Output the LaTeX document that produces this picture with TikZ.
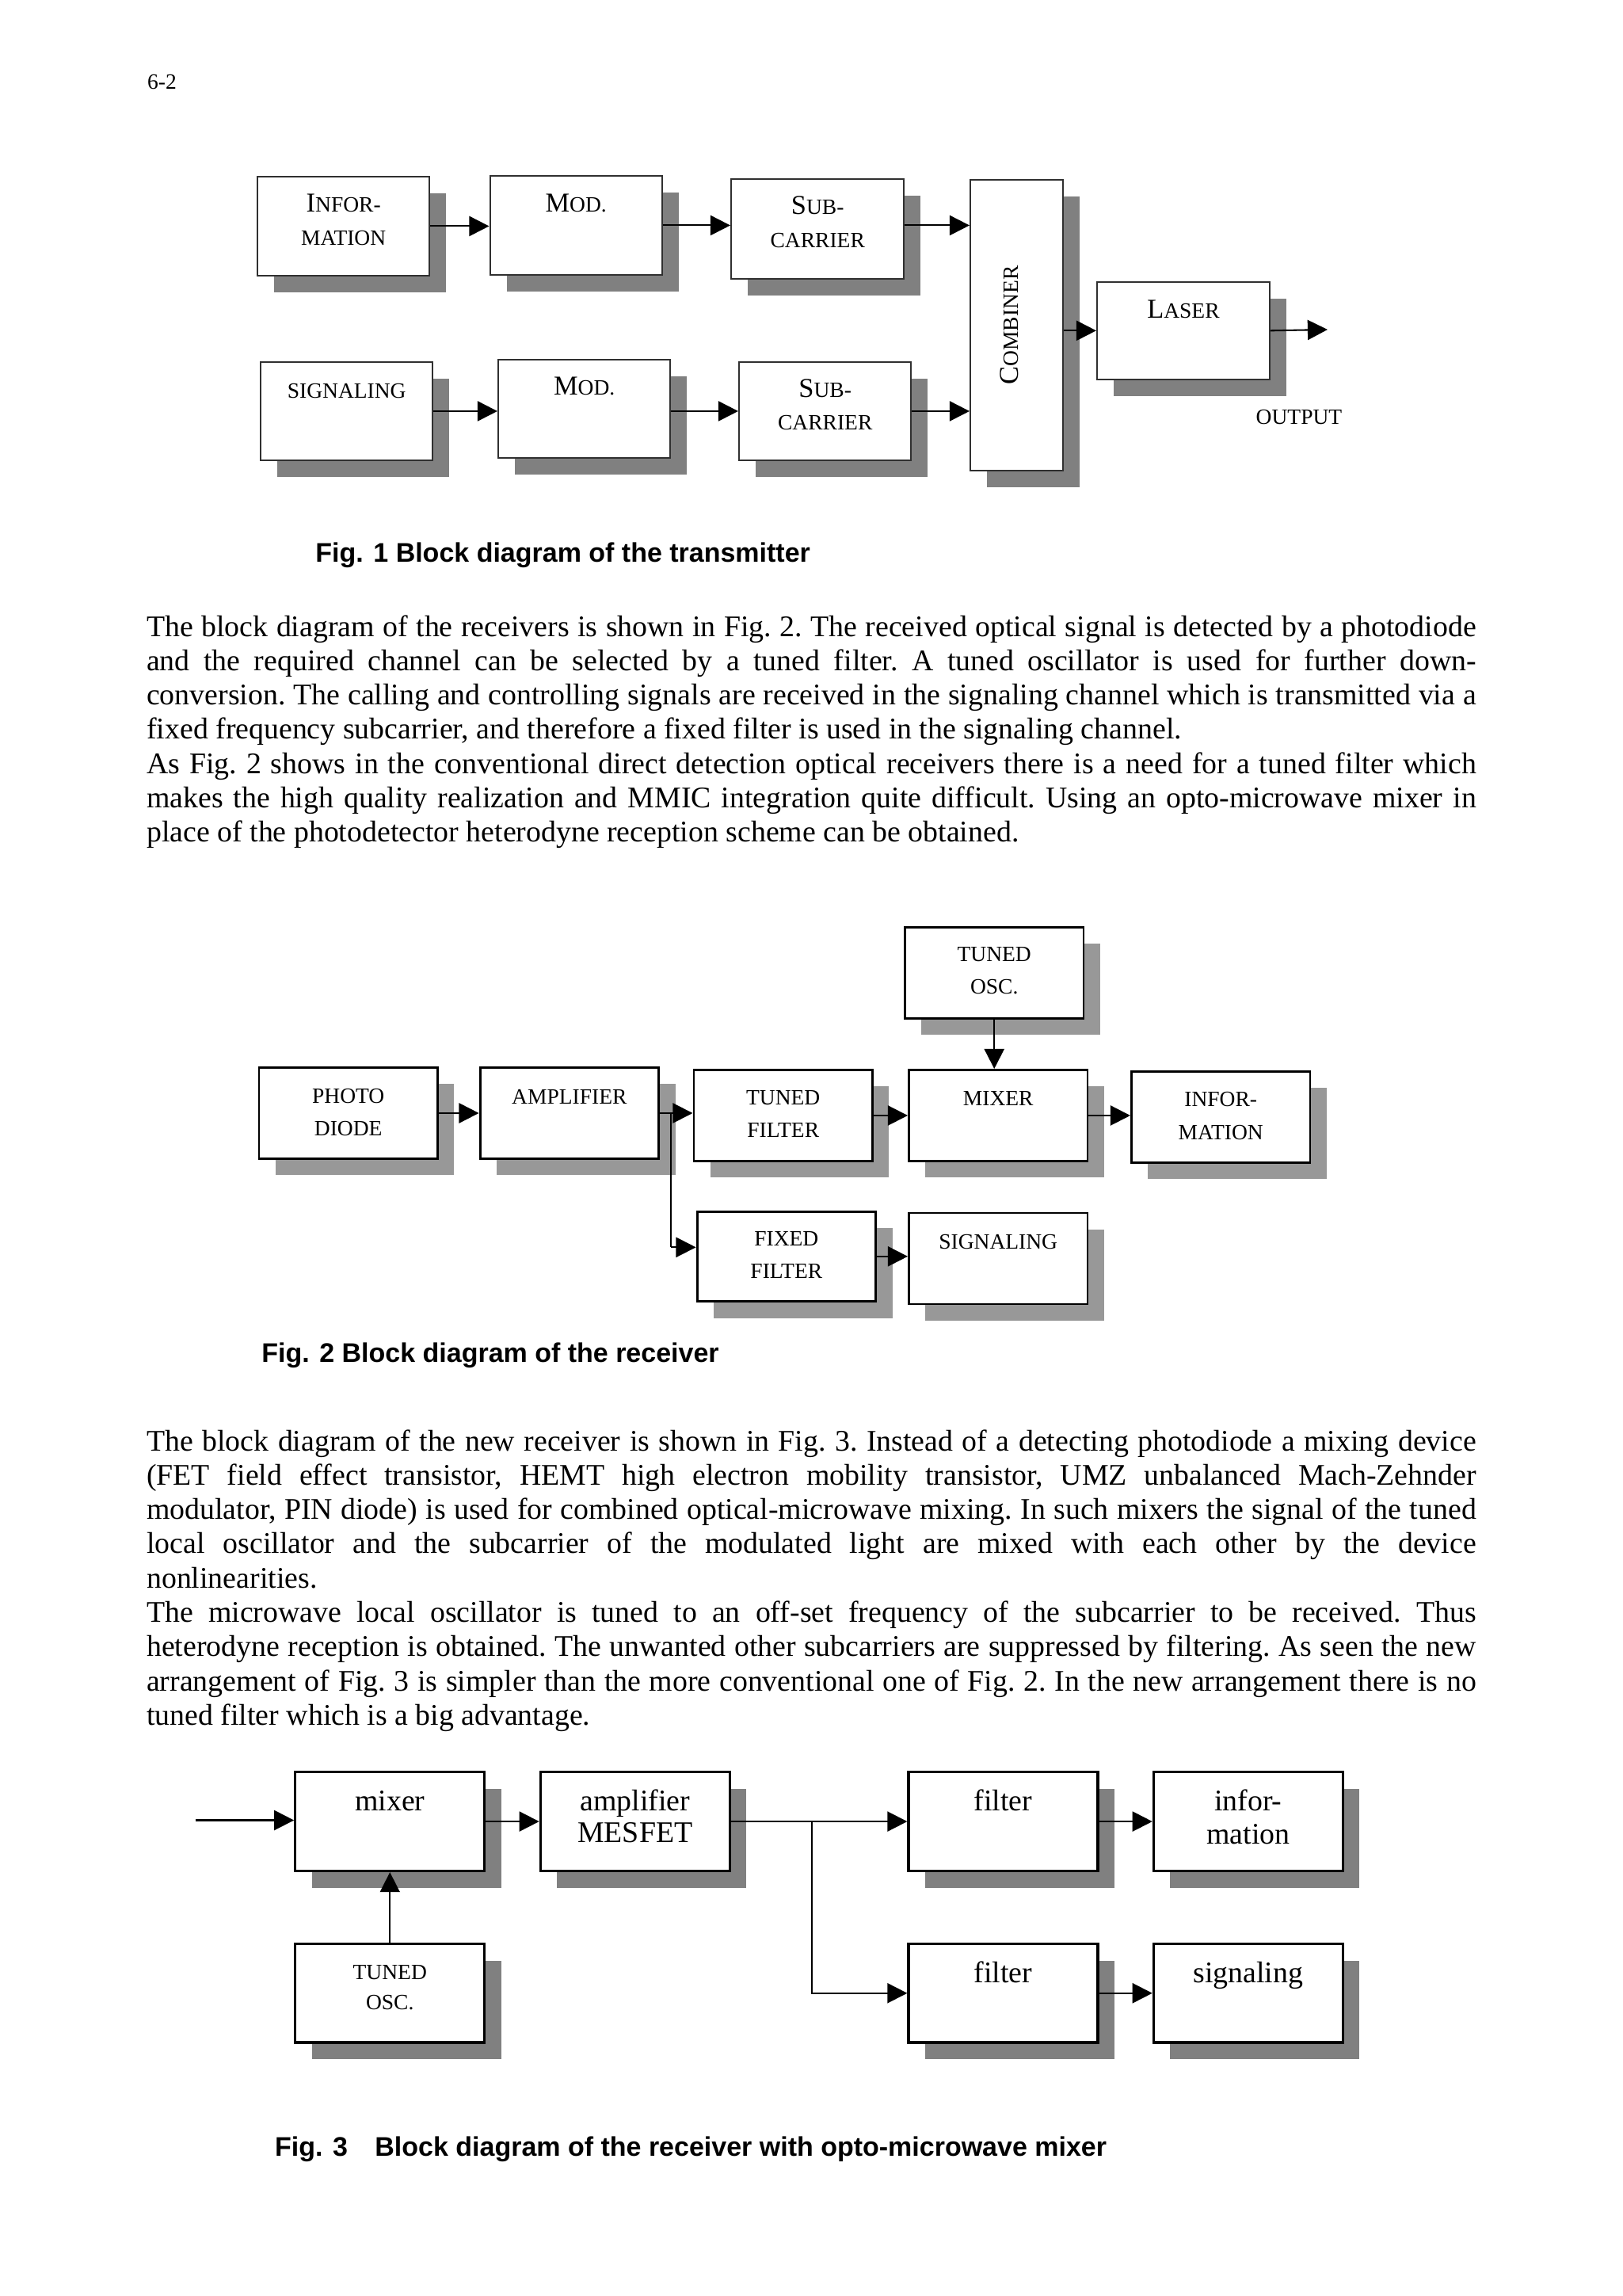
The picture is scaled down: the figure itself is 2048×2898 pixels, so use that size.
\documentclass[tikz,border=0pt]{standalone}
\usepackage{fontspec}
\setmainfont{Liberation Serif}
\newfontfamily\arialf{Liberation Sans}
\usetikzlibrary{arrows.meta,calc,shadows}
\definecolor{shA}{HTML}{808080}
\definecolor{shB}{HTML}{989898}
\definecolor{bordA}{HTML}{303030}
\newcommand\px{0.29066pt}
\newcommand\sm[1]{{\fontsize{8pt}{9pt}\selectfont #1}}
\begin{document}
\begin{tikzpicture}[x=0.29066pt,y=-0.29066pt,
  ar/.style={line width=0.6pt,-{Triangle[length=7.3pt,width=7.3pt]}},
  thinar/.style={line width=0.45pt,-{Triangle[length=7.3pt,width=7.3pt]}},
  boxbase/.style={fill=white,inner sep=0pt,anchor=north west},
  boxA/.style={boxbase,draw=bordA,line width=0.7pt,minimum width=217*\px,minimum height=124.5*\px,
    drop shadow={shadow xshift=6.1pt,shadow yshift=-6.1pt,opacity=1,fill=shA}},
  boxB/.style={boxbase,draw=black,line width=0.85pt,minimum width=225.5*\px,minimum height=115*\px,
    drop shadow={shadow xshift=6.1pt,shadow yshift=-6.1pt,opacity=1,fill=shB}},
  boxC/.style={boxbase,draw=black,line width=0.9pt,minimum width=239*\px,minimum height=125*\px,
    drop shadow={shadow xshift=6.1pt,shadow yshift=-6.1pt,opacity=1,fill=shA}},
  lbl/.style={inner sep=0pt,anchor=base,font=\fontsize{10pt}{12pt}\selectfont},
  cap8/.style={lbl,font=\fontsize{8pt}{9pt}\selectfont},
  lbl11/.style={lbl,font=\fontsize{11pt}{13pt}\selectfont},
  figcap/.style={inner sep=0pt,anchor=base west,font=\arialf\bfseries\fontsize{9.88pt}{12pt}\selectfont},
  bodytext/.style={inner sep=0pt,anchor=base west}
]
\useasboundingbox (0,0) rectangle (2048,2898);
\fill[white] (0,0) rectangle (2048,2898);

% page number
\node[inner sep=0pt,anchor=base west,font=\fontsize{8pt}{9pt}\selectfont] (pgno) at (185.5,112.4) {6-2};

% ---------------- Fig. 1 ----------------
\node[boxA] (info) at (324,222) {};
\node[boxA] (mod1) at (617.5,221) {};
\node[boxA,minimum width=218*\px,minimum height=125.5*\px] (sub1) at (922,225) {};
\node[boxA,minimum width=116.6*\px,minimum height=366.5*\px] (comb) at (1224,226) {};
\node[boxA,minimum width=217.5*\px,minimum height=123.2*\px] (laser) at (1384,354.5) {};
\node[boxA] (sig1) at (328,455.5) {};
\node[boxA,minimum height=123.6*\px] (mod2) at (628,453) {};
\node[boxA] (sub2) at (932,455.5) {};

\node[lbl] (infoT1) at ($(info.north)+(0,45)$) {I\sm{NFOR-}};
\node[lbl] (infoT2) at ($(info.north)+(0,87)$) {\sm{MATION}};
\node[lbl] (mod1T) at ($(mod1.north)+(0,46)$) {M\sm{OD.}};
\node[lbl] (sub1T1) at ($(sub1.north)+(0,45.7)$) {S\sm{UB-}};
\node[lbl] (sub1T2) at ($(sub1.north)+(0,87)$) {\sm{CARRIER}};
\node[lbl] (sig1T) at ($(sig1.north)+(0,47)$) {\sm{SIGNALING}};
\node[lbl] (mod2T) at ($(mod2.north)+(0,45.6)$) {M\sm{OD.}};
\node[lbl] (sub2T1) at ($(sub2.north)+(0,45.9)$) {S\sm{UB-}};
\node[lbl] (sub2T2) at ($(sub2.north)+(0,87.3)$) {\sm{CARRIER}};
\node[lbl,rotate=90] (combT) at ($(comb.center)+(2,0)$) {C\sm{OMBINER}};
\node[lbl] (laserT) at ($(laser.north)+(0,46.7)$) {L\sm{ASER}};
\node[cap8] (outT) at (1640,535.9) {OUTPUT};

\draw[ar] (info.east) -- (info.east -| mod1.west);
\draw[ar] (mod1.east) -- (mod1.east -| sub1.west);
\coordinate (s1o) at ($(sub1.east)+(0,-4.5)$);
\draw[ar] (s1o) -- (s1o -| comb.west);
\draw[ar] (sig1.east) -- (sig1.east -| mod2.west);
\draw[ar] (sub2.west -| mod2.east) -- (sub2.west);
\draw[ar] (sub2.east) -- (sub2.east -| comb.west);
\draw[ar] (laser.west -| comb.east) -- (laser.west);
\coordinate (outtip) at (1676,416);
\draw[ar] (laser.east) -- (outtip);

\node[figcap] (cap1) at (397.7,709) {Fig. 1 Block diagram of the transmitter};

% ---------------- body text A ----------------
\node[bodytext] (bodyA) at (184.5,803) {\vtop{\hsize=487.9pt\fontsize{11pt}{12.585pt}\selectfont\frenchspacing
\hbox to\hsize{The block diagram of the receivers is shown in Fig. 2. The received optical signal is detected by a photodiode}
\hbox to\hsize{and the required channel can be selected by a tuned filter. A tuned oscillator is used for further down-}
\hbox to\hsize{conversion. The calling and controlling signals are received in the signaling channel which is transmitted via a}
\hbox{fixed frequency subcarrier, and therefore a fixed filter is used in the signaling channel.}
\hbox to\hsize{As Fig. 2 shows in the conventional direct detection optical receivers there is a need for a tuned filter which}
\hbox to\hsize{makes the high quality realization and MMIC integration quite difficult. Using an opto-microwave mixer in}
\hbox{place of the photodetector heterodyne reception scheme can be obtained.}}};

% ---------------- Fig. 2 ----------------
\node[boxB] (photo) at (325.5,1346) {};
\node[boxB] (amp) at (604.6,1346) {};
\node[boxB] (tfil) at (874.5,1349) {};
\node[boxB,minimum height=113.5*\px] (ffil) at (878.6,1527.6) {};
\node[boxB] (tosc) at (1141,1169) {};
\node[boxB] (mix) at (1146,1349) {};
\node[boxB] (info2) at (1427,1351) {};
\node[boxB] (sig2) at (1146,1529.5) {};

\node[cap8] (photoT1) at ($(photo.north)+(0,46.3)$) {PHOTO};
\node[cap8] (photoT2) at ($(photo.north)+(0,87.2)$) {DIODE};
\node[cap8] (ampT) at ($(amp.north)+(0,47.9)$) {AMPLIFIER};
\node[cap8] (tfilT1) at ($(tfil.north)+(0,45.9)$) {TUNED};
\node[cap8] (tfilT2) at ($(tfil.north)+(0,86.7)$) {FILTER};
\node[cap8] (ffilT1) at ($(ffil.north)+(0,44.8)$) {FIXED};
\node[cap8] (ffilT2) at ($(ffil.north)+(0,85.7)$) {FILTER};
\node[cap8] (toscT1) at ($(tosc.north)+(0,44.8)$) {TUNED};
\node[cap8] (toscT2) at ($(tosc.north)+(0,85.9)$) {OSC.};
\node[cap8] (mixT) at ($(mix.north)+(0,46.8)$) {MIXER};
\node[cap8] (info2T1) at ($(info2.north)+(0,45)$) {INFOR-};
\node[cap8] (info2T2) at ($(info2.north)+(0,87)$) {MATION};
\node[cap8] (sig2T) at ($(sig2.north)+(0,46.8)$) {SIGNALING};

\draw[ar] (photo.east) -- (photo.east -| amp.west);
\draw[ar] (amp.east) -- (amp.east -| tfil.west);
\draw[ar] (tfil.east) -- (tfil.east -| mix.west);
\draw[ar] (mix.east) -- (mix.east -| info2.west);
\draw[ar] (tosc.south) -- (tosc.south |- mix.north);
\coordinate (br2) at ($(amp.east)+(13.8,0)$);
\coordinate (ffin) at ($(ffil.west)+(0,-11.5)$);
\draw[line width=0.45pt] (br2) -- (br2 |- ffin);
\draw[ar] (br2 |- ffin) -- (ffin);
\draw[ar] (ffil.east) -- (ffil.east -| sig2.west);

\node[figcap] (cap2) at (329.6,1719.9) {Fig. 2 Block diagram of the receiver};

% ---------------- body text B ----------------
\node[bodytext] (bodyB) at (184.5,1831) {\vtop{\hsize=487.9pt\fontsize{11pt}{12.585pt}\selectfont\frenchspacing
\hbox to\hsize{The block diagram of the new receiver is shown in Fig. 3. Instead of a detecting photodiode a mixing device}
\hbox to\hsize{(FET field effect transistor, HEMT high electron mobility transistor, UMZ unbalanced Mach-Zehnder}
\hbox to\hsize{modulator, PIN diode) is used for combined optical-microwave mixing. In such mixers the signal of the tuned}
\hbox to\hsize{local oscillator and the subcarrier of the modulated light are mixed with each other by the device}
\hbox{nonlinearities.}
\hbox to\hsize{The microwave local oscillator is tuned to an off-set frequency of the subcarrier to be received. Thus}
\hbox to\hsize{heterodyne reception is obtained. The unwanted other subcarriers are suppressed by filtering. As seen the new}
\hbox to\hsize{arrangement of Fig. 3 is simpler than the more conventional one of Fig. 2. In the new arrangement there is no}
\hbox{tuned filter which is a big advantage.}}};

% ---------------- Fig. 3 ----------------
\node[boxC] (mix3) at (371.2,2235) {};
\node[boxC] (amp3) at (680.7,2235) {};
\node[boxC] (fil1) at (1145.4,2235) {};
\node[boxC] (inf3) at (1454.8,2235) {};
\node[boxC,minimum height=124.4*\px] (osc3) at (371.2,2452) {};
\node[boxC,minimum height=124.4*\px] (fil2) at (1145.4,2452) {};
\node[boxC,minimum height=124.4*\px] (sig3) at (1454.8,2452) {};

\node[lbl11] (mix3T) at ($(mix3.north)+(0,50.4)$) {mixer};
\node[lbl11] (amp3T1) at ($(amp3.north)+(0,50.4)$) {amplifier};
\node[lbl11] (amp3T2) at ($(amp3.north)+(0,90.4)$) {MESFET};
\node[lbl11] (fil1T) at ($(fil1.north)+(0,50.4)$) {filter};
\node[lbl11] (inf3T1) at ($(inf3.north)+(0,50.4)$) {infor-};
\node[lbl11] (inf3T2) at ($(inf3.north)+(0,92)$) {mation};
\node[cap8] (osc3T1) at ($(osc3.north)+(0,46)$) {TUNED};
\node[cap8] (osc3T2) at ($(osc3.north)+(0,84)$) {OSC.};
\node[lbl11] (fil2T) at ($(fil2.north)+(0,50)$) {filter};
\node[lbl11] (sig3T) at ($(sig3.north)+(0,50)$) {signaling};

\coordinate (in3) at (246.9,2297.5);
\draw[ar] (in3) -- (in3 -| mix3.west);
\draw[ar] (mix3.east) -- (mix3.east -| amp3.west);
\draw[ar] (amp3.east) -- (amp3.east -| fil1.west);
\coordinate (br3) at ($(amp3.east)+(102.3,0)$);
\draw[ar] (br3) |- (fil2.west);
\draw[ar] (fil1.east) -- (fil1.east -| inf3.west);
\draw[ar] (fil2.east) -- (fil2.east -| sig3.west);
\draw[thinar] (osc3.north) -- (mix3.south);

\node[figcap] (cap3) at (346.4,2721.8) {Fig. 3\hspace{10pt}Block diagram of the receiver with opto-microwave mixer};
\end{tikzpicture}
\end{document}
